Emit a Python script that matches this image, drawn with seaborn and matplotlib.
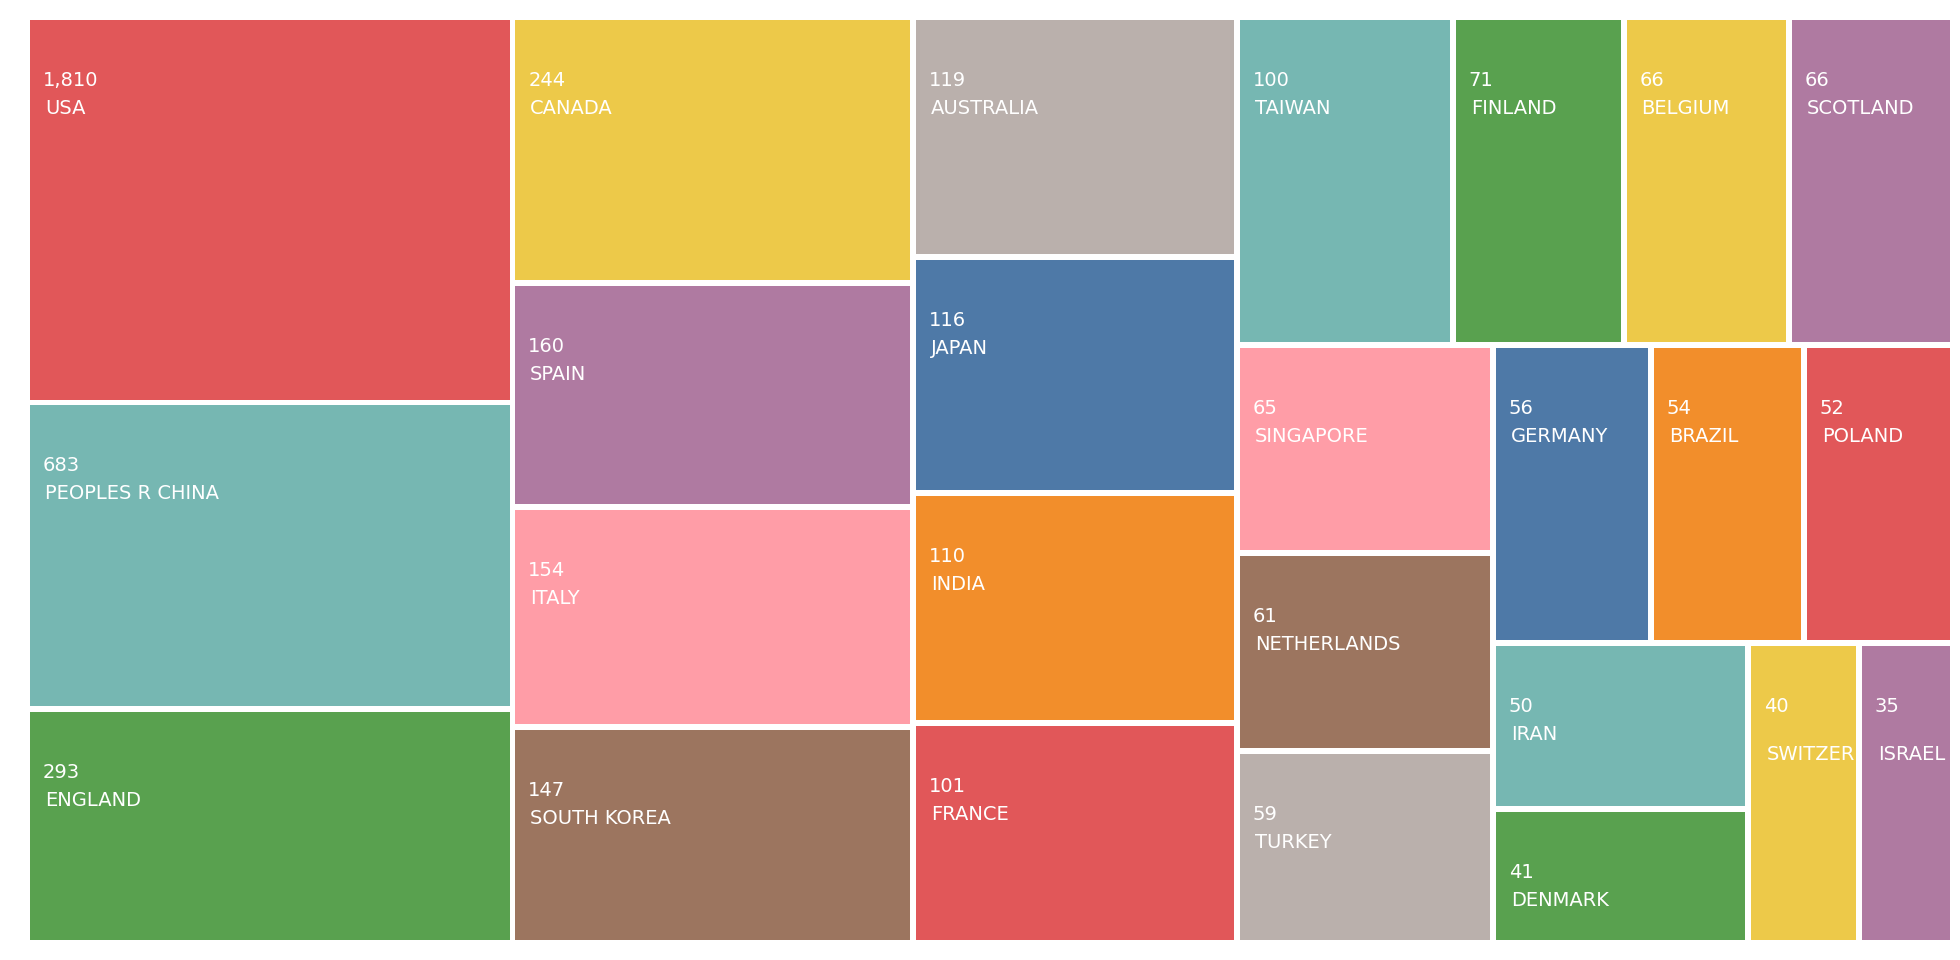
import math
import matplotlib
matplotlib.use("Agg")
import matplotlib.pyplot as plt
from matplotlib.patches import Rectangle
import seaborn as sns

# ---------------- data ----------------
countries = ["USA", "PEOPLES R CHINA", "ENGLAND", "CANADA", "SPAIN", "ITALY",
             "SOUTH KOREA", "AUSTRALIA", "JAPAN", "INDIA", "FRANCE", "TAIWAN",
             "FINLAND", "BELGIUM", "SCOTLAND", "SINGAPORE", "NETHERLANDS",
             "TURKEY", "GERMANY", "BRAZIL", "POLAND", "IRAN", "DENMARK",
             "SWITZERLAND", "ISRAEL"]
counts = [1810, 683, 293, 244, 160, 154, 147, 119, 116, 110, 101, 100,
          71, 66, 66, 65, 61, 59, 56, 54, 52, 50, 41, 40, 35]
# relative tile sizes (areas are not proportional to the labels)
tile_weight = [186.9, 148.7, 113.4, 106.4, 89.7, 88.1, 86.4, 77.7, 76.5, 74.5,
               71.2, 70.8, 56.0, 54.1, 53.7, 53.2, 50.7, 49.1, 47.1, 45.6,
               44.3, 42.3, 34.1, 33.3, 28.1]
palette_hex = ["#e15759", "#76b7b2", "#59a14f", "#edc949", "#af7aa1",
               "#ff9da7", "#9c755f", "#bab0ac", "#4e79a7", "#f28e2b"]

# ---------------- style ----------------
sns.set_theme(style="white")
plt.rcParams["font.family"] = ["DejaVu Sans"]
colors = sns.color_palette(palette_hex, n_colors=len(palette_hex))

W, H = 1960, 960
HALF_GAP = 2.75
LX, LY = 30 - HALF_GAP, 20 - HALF_GAP
LW, LH = 1920 + 2 * HALF_GAP, 920 + 2 * HALF_GAP


def squarify(weights, x, y, w, h, half_gap, ratio=0.5 * (1 + math.sqrt(5))):
    total = sum(weights)
    areas = [v * (w * h) / total for v in weights]
    rect = {"x": x, "y": y, "width": w, "height": h}
    out = [None] * len(areas)

    def worst(idx, row_area, fixed):
        amax = max(areas[j] for j in idx)
        amin = min(areas[j] for j in idx)
        sq = row_area * row_area
        f = fixed * fixed * ratio
        return max(f * amax / sq, sq / (f * amin)) if sq else math.inf

    def position(idx, row_area, fixed, flush):
        if fixed == rect["width"]:
            a0, s0, a1, s1 = "x", "width", "y", "height"
        else:
            a0, s0, a1, s1 = "y", "height", "x", "width"
        last = rect[a0]
        other = row_area / fixed if fixed else 0
        if flush or other > rect[s1]:
            other = rect[s1]
        for k, j in enumerate(idx):
            step = areas[j] / other if other else 0
            l1 = max(other - 2 * half_gap, 0)
            remain = rect[a0] + rect[s0] - last
            mod = remain if (k == len(idx) - 1 or remain < step) else step
            l0 = max(mod - 2 * half_gap, 0)
            box = {a1: rect[a1] + min(half_gap, l1 / 2),
                   a0: last + min(half_gap, l0 / 2),
                   s1: l1, s0: l0}
            out[j] = (box["x"], box["y"], box["width"], box["height"])
            last += mod
        rect[a1] += other
        rect[s1] -= other

    fixed = min(w, h)
    best = math.inf
    row, row_area = [], 0.0
    i = 0
    while i < len(areas):
        row.append(i)
        row_area += areas[i]
        score = worst(row, row_area, fixed)
        if score <= best:
            i += 1
            best = score
        else:
            row.pop()
            row_area -= areas[i]
            position(row, row_area, fixed, False)
            fixed = min(rect["width"], rect["height"])
            row, row_area = [], 0.0
            best = math.inf
    if row:
        position(row, row_area, fixed, True)
    return out


boxes = squarify(tile_weight, LX, LY, LW, LH, HALF_GAP)

fig = plt.figure(figsize=(W / 100, H / 100), dpi=100)
fig.patch.set_facecolor("white")
ax = fig.add_axes([0, 0, 1, 1])
ax.set_xlim(0, W)
ax.set_ylim(H, 0)
ax.axis("off")
renderer = fig.canvas.get_renderer()

FS = 14
for k, (name, cnt, (bx, by, bw, bh)) in enumerate(zip(countries, counts, boxes)):
    patch = Rectangle((bx, by), bw, bh, facecolor=colors[k % len(colors)],
                      edgecolor="none", linewidth=0)
    ax.add_patch(patch)
    t1 = ax.text(bx + 13, by + 66, f"{cnt:,}", color="white", fontsize=FS,
                 ha="left", va="baseline", clip_on=True)
    t1.set_clip_path(patch)
    t2 = ax.text(bx + 15, by + 94, name, color="white", fontsize=FS,
                 ha="left", va="baseline", clip_on=True)
    tw = t2.get_window_extent(renderer).width
    if tw + 28 > bw:
        t2.set_position((bx + 16, by + 114))
    t2.set_clip_path(patch)

fig.savefig("out.png", dpi=100, facecolor="white")
